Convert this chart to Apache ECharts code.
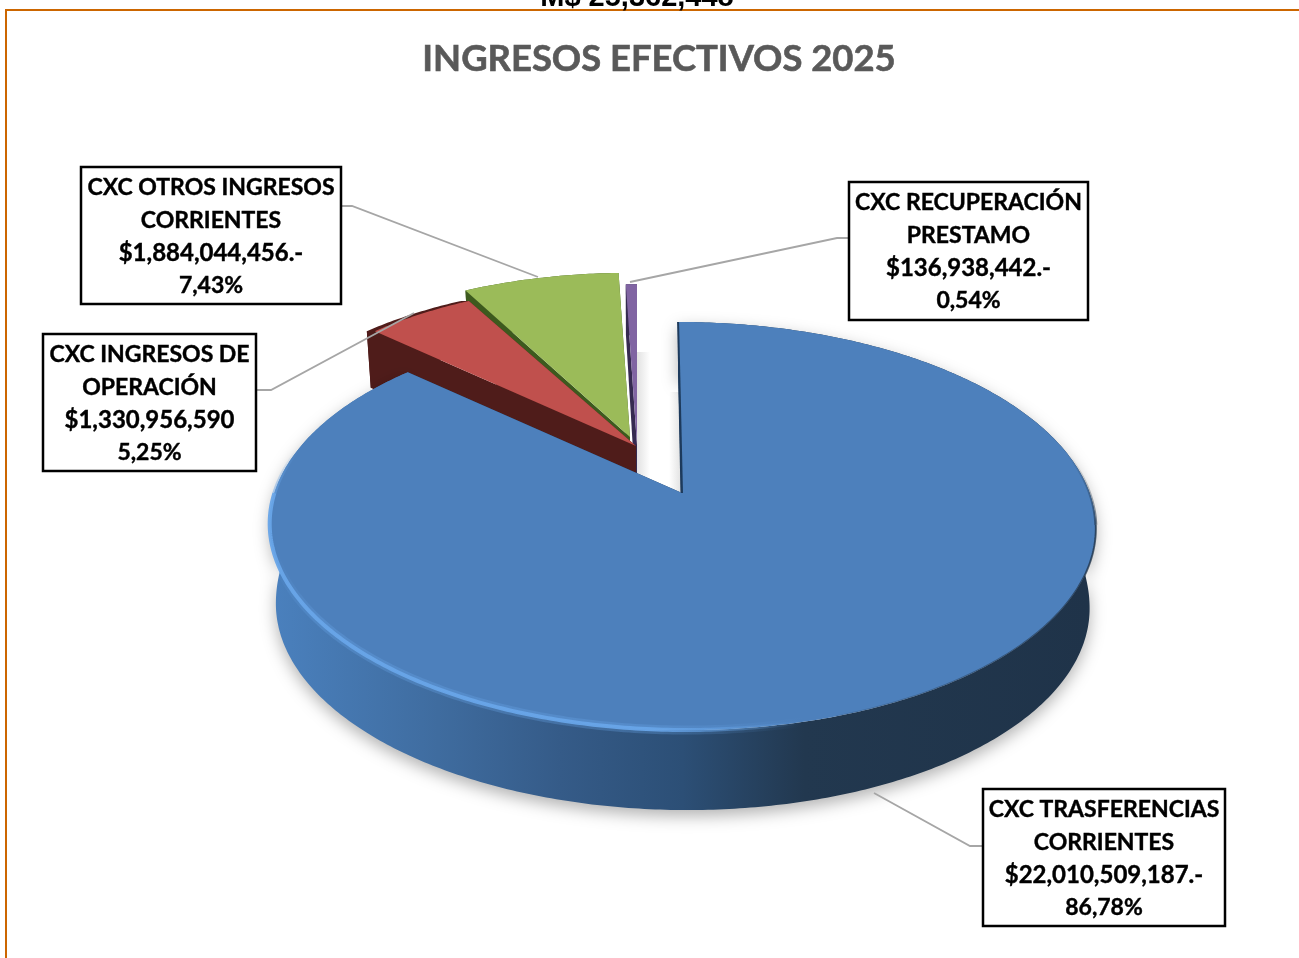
<!DOCTYPE html>
<html>
<head>
<meta charset="utf-8">
<title>INGRESOS EFECTIVOS 2025</title>
<script src="https://cdn.jsdelivr.net/npm/echarts@6/dist/echarts.min.js"></script>
<style>
    html, body { margin: 0; padding: 0; background: #fff; }
    #chart { width: 1299px; height: 958px; }
</style>
</head>
<body>
<div id="chart"></div>
<script>
// valores
var sliceNames = [
    "CXC TRASFERENCIAS\nCORRIENTES",
    "CXC INGRESOS DE\nOPERACIÓN",
    "CXC OTROS INGRESOS\nCORRIENTES",
    "CXC RECUPERACIÓN\nPRESTAMO"
];
var sliceValues = [22010509187, 1330956590, 1884044456, 136938442];
var amountLabels = ["$22,010,509,187.-", "$1,330,956,590", "$1,884,044,456.-", "$136,938,442.-"];
var percentLabels = ["86,78%", "5,25%", "7,43%", "0,54%"];
var chartTitle = "INGRESOS EFECTIVOS 2025";
var clippedHeading = "M$ 25,362,448";

// estilo de cada porcion
var topColors = ["#4d80bc", "#c0504d", "#9bbb59", "#8064a2"];
var wallColors = ["#1f3349", "#4f1c1a", "#3d5a1e", "#352a50"];
var sliceLayers = [10, 6, 4, 2];

// apex y escala de cada porcion (explosion del pastel 3D)
var apexX = [682, 636, 630, 637];
var apexY = [493, 446, 437, 445];
var apexScale = [1, 0.95, 0.96, 0.94];
var apexLean = [0.023, 0.03, 0, 0];
var wallShift = [0, -8, 0, 0];

// cajas de etiquetas: x, y, ancho, alto
var labelBoxes = [
    [983, 789, 242, 137],
    [43, 334, 213, 137],
    [81, 167, 260, 137],
    [849, 182, 239, 138]
];
var leaderLines = [
    [[982, 846], [970, 846], [874, 793]],
    [[256, 390], [271, 390], [414, 313]],
    [[341, 206], [352, 206], [538, 277]],
    [[849, 238], [837, 238], [630, 282]]
];

var RX = 407.6, RY = 198.7, PERSP = -0.1618, WALL_SHRINK = 0.985;
var FONT = "Lato, 'Noto Sans', sans-serif";

var total = sliceValues.reduce(function(a, b) { return a + b; }, 0);

function rimPoint(i, angle) {
    var u = Math.sin(angle), v = -Math.cos(angle), w = 1 + PERSP * v;
    var s = apexScale[i];
    var y = apexY[i] + s * RY * v / w;
    var x = apexX[i] + s * RX * u / w + apexLean[i] * (y - apexY[i]);
    return [x, y];
}

function wallHeight(y) {
    return 57 + (Math.min(y, 526) - 335) * 23 / 191;
}

function basePoint(p, i) {
    return [apexX[i] + (p[0] - apexX[i]) * WALL_SHRINK, p[1] + wallHeight(p[1])];
}

function arcPoints(i, a0, a1) {
    var pts = [];
    var n = Math.max(2, Math.ceil((a1 - a0) * 90));
    for (var k = 0; k <= n; k++) {
        pts.push(rimPoint(i, a0 + (a1 - a0) * k / n));
    }
    return pts;
}

function fadeStroke(x, y, x2, y2, stops) {
    return {
        type: "linear", global: true, x: x, y: y, x2: x2, y2: y2,
        colorStops: stops.map(function(s) { return { offset: s[0], color: s[1] }; })
    };
}

function rimStroke(pts, width, stroke) {
    return {
        type: "polyline",
        z2: sliceLayers[0] + 2,
        shape: { points: pts },
        style: { fill: null, lineWidth: width, stroke: stroke, lineCap: "butt" }
    };
}

function renderSlice(params, api) {
    var i = params.dataIndex;
    var before = 0;
    for (var k = 0; k < i; k++) {
        before += sliceValues[k];
    }
    var a0 = before / total * Math.PI * 2;
    var a1 = (before + api.value(0)) / total * Math.PI * 2;
    var layer = sliceLayers[i];
    var rim = arcPoints(i, a0, a1);
    var last = rim.length - 1;
    var shift = wallShift[i];
    var wallRim = rim.map(function(p) { return [p[0] + shift, p[1]]; });
    var base = rim.map(function(p) {
        var b = basePoint(p, i);
        return [b[0] + shift, b[1]];
    });
    var apex = [apexX[i], apexY[i]];
    var apexBase = [apex[0], apex[1] + wallHeight(apex[1])];
    var children = [];

    // pared exterior
    var wallFill = wallColors[i];
    var wallStyle = { fill: wallFill };
    if (i === 0) {
        wallStyle.fill = fadeStroke(275, 0, 1090, 0, [
            [0, "#4a80bd"], [0.2, "#3f6c9f"], [0.35, "#355b88"],
            [0.5, "#2c4f76"], [0.65, "#22384f"], [1, "#1f3349"]
        ]);
        wallStyle.shadowBlur = 16;
        wallStyle.shadowOffsetY = 6;
        wallStyle.shadowColor = "rgba(0,0,0,0.3)";
    }
    children.push({
        type: "polygon",
        z2: layer,
        shape: { points: wallRim.concat(base.slice().reverse()) },
        style: wallStyle
    });

    // caras de los cortes
    var cutFill = i === 0 ? "#1d3a5c" : wallFill;
    children.push({
        type: "polygon",
        z2: layer,
        shape: { points: [wallRim[0], rim[0], apex, apexBase, base[0]] },
        style: { fill: cutFill }
    });
    children.push({
        type: "polygon",
        z2: layer,
        shape: { points: [wallRim[last], rim[last], apex, apexBase, base[last]] },
        style: { fill: cutFill }
    });

    // cara superior
    children.push({
        type: "polygon",
        z2: layer + 1,
        shape: { points: [apex].concat(rim) },
        style: { fill: topColors[i] }
    });

    // brillo y sombra del borde
    if (i === 0) {
        var bright = "rgba(104,165,232,0.95)", clear = "rgba(104,165,232,0)";
        var soft = "rgba(104,165,232,0.3)";
        children.push(rimStroke(arcPoints(0, Math.PI * 0.78, Math.PI * 1.42), 9,
            fadeStroke(280, 540, 800, 730, [[0, clear], [0.12, soft], [0.75, soft], [1, clear]])));
        children.push(rimStroke(arcPoints(0, Math.PI * 0.78, Math.PI * 1.5), 4,
            fadeStroke(300, 0, 800, 0, [[0, bright], [0.7, bright], [1, clear]])));
        children.push(rimStroke(arcPoints(0, Math.PI * 1.5, Math.PI * 1.62), 4,
            fadeStroke(0, 450, 0, 526, [[0, clear], [1, bright]])));
        var dark = "rgba(31,51,73,0.75)", darkClear = "rgba(31,51,73,0)";
        children.push(rimStroke(arcPoints(0, Math.PI * 0.36, Math.PI * 0.55), 3,
            fadeStroke(0, 455, 0, 540, [[0, darkClear], [1, dark]])));
        children.push(rimStroke(arcPoints(0, Math.PI * 0.55, Math.PI * 0.9), 2,
            fadeStroke(780, 0, 1090, 0, [[0, darkClear], [1, dark]])));
        children.push({
            type: "polyline",
            z2: layer + 2,
            shape: { points: [rim[0], apex] },
            style: { fill: null, stroke: "#1d3a5c", lineWidth: 2 }
        });
    }

    // linea guia
    children.push({
        type: "polyline",
        z2: 20,
        shape: { points: leaderLines[i] },
        style: { fill: null, stroke: "#a6a6a6", lineWidth: 1.8 }
    });

    // caja de etiqueta
    var box = labelBoxes[i];
    children.push({
        type: "rect",
        z2: 30,
        shape: { x: box[0], y: box[1], width: box[2], height: box[3] },
        style: { fill: "#fff", stroke: "#000", lineWidth: 2.5 }
    });
    var lines = sliceNames[i].split("\n").concat([amountLabels[i], percentLabels[i]]);
    lines.forEach(function(line, n) {
        children.push({
            type: "text",
            z2: 31,
            style: {
                x: box[0] + box[2] / 2,
                y: box[1] + 21 + n * 32.6,
                text: line,
                font: "bold " + (n === 2 ? 24 : 23) + "px " + FONT,
                fill: "#000",
                stroke: "#000",
                lineWidth: 0.4,
                align: "center",
                verticalAlign: "middle"
            }
        });
    });

    return { type: "group", children: children };
}

var chart = echarts.init(document.getElementById("chart"));

chart.setOption({
    animation: false,
    backgroundColor: "#fff",
    title: [{
        text: chartTitle,
        left: 654,
        top: 36,
        textAlign: "center",
        textStyle: {
            fontFamily: FONT, fontSize: 36.4, fontWeight: "bold", color: "#595959",
            textBorderColor: "#595959", textBorderWidth: 0.6
        }
    }, {
        text: clippedHeading,
        left: 632,
        top: -22,
        textAlign: "center",
        textStyle: { fontFamily: "'Liberation Sans', Arial, sans-serif", fontSize: 29, fontWeight: "bold", color: "#000" }
    }],
    graphic: [{
        type: "polyline",
        z: 5,
        shape: { points: [[6, 958], [6, 10], [1299, 10]] },
        style: { fill: null, stroke: "#cc6600", lineWidth: 2 }
    }, {
        type: "rect",
        z: -1,
        shape: { x: 637, y: 352, width: 13, height: 126 },
        style: {
            fill: { type: "linear", x: 0, y: 0, x2: 1, y2: 0, colorStops: [
                { offset: 0, color: "#e2e2e2" }, { offset: 1, color: "#fff" }
            ] }
        }
    }, {
        type: "rect",
        z: -1,
        shape: { x: 669, y: 392, width: 12, height: 100 },
        style: {
            fill: { type: "linear", x: 0, y: 0, x2: 1, y2: 0, colorStops: [
                { offset: 0, color: "#fff" }, { offset: 1, color: "#e2e2e2" }
            ] }
        }
    }],
    series: [{
        type: "custom",
        coordinateSystem: "none",
        silent: true,
        clip: false,
        renderItem: renderSlice,
        data: sliceValues.map(function(v, i) {
            return { name: sliceNames[i], value: [v] };
        })
    }]
});
</script>
</body>
</html>
